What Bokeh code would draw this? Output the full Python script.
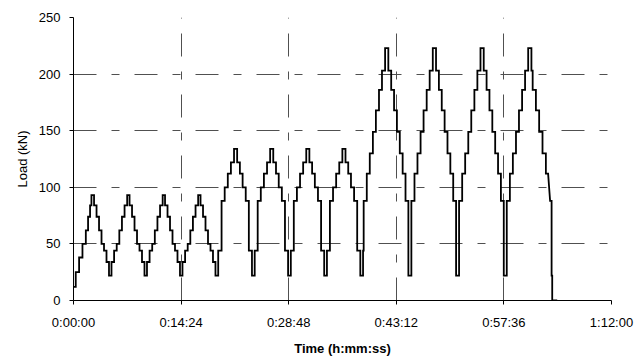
import numpy as np
from bokeh.plotting import figure
from bokeh.models import FixedTicker, Range1d
from bokeh.embed import file_html
from bokeh.resources import INLINE

# ---- axis ticks -----------------------------------------------------------
X_TICKS = [0, 864, 1728, 2592, 3456, 4320]          # seconds
X_TICK_LABELS = ["0:00:00", "0:14:24", "0:28:48", "0:43:12", "0:57:36", "1:12:00"]
Y_TICKS = [0, 50, 100, 150, 200, 250]

# ---- load history: (load kN, hold s) -------------------------------------
# cycle 1: ramp from start to first peak
FIRST_LEVELS = [12, 25, 38, 50, 62, 74, 84, 93]
FIRST_HOLDS = [18, 27, 27, 27, 18, 16, 11, 21]

# small cycles 2-4 (descent from previous peak, trough, ascent, peak)
SMALL_LEVELS = [84, 74, 62, 50, 44, 34, 22, 34, 44, 50, 62, 74, 84, 93]
SMALL_HOLDS = [20, 20, 20, 20, 20, 20, 20, 21, 21, 21, 21, 21, 21, 19]

# descent of cycle 4 into the medium block
SMALL_END_LEVELS = [84, 74, 62, 50, 44, 34, 22, 44]
SMALL_END_HOLDS = [20, 20, 20, 20, 20, 20, 22, 27]

# medium cycles 5-8
MED_UP_LEVELS = [88, 100, 112, 122, 134]
MED_UP_HOLDS = [25, 25, 25, 25, 25]
MED_DOWN_LEVELS = [122, 112, 100, 88, 44, 22, 44]
MED_DOWN_HOLDS = [22, 22, 25, 25, 25, 22, 24]
MED_END_HOLDS = [22, 22, 25, 25, 25, 22, 5]

# large cycles 9-12
LARGE_UP_LEVELS = [88, 112, 130, 149, 168, 186, 203, 223]
LARGE_UP_HOLDS = [25, 24, 25, 24, 25, 24, 25, 26]
LARGE_DOWN_LEVELS = [203, 186, 168, 149, 130, 112, 88, 22]
LARGE_DOWN_HOLDS = [23, 23, 23, 23, 23, 23, 23, 24]

# final unloading
FINAL_LEVELS = [203, 186, 168, 149, 130, 112]
FINAL_HOLDS = [10, 26, 26, 27, 27, 18]
FINAL_RAMP_S = 16                      # sloped 112 -> 88
FINAL_TAIL_LEVELS = [88, 22, 0]
FINAL_TAIL_HOLDS = [12, 5, 40]

# ---- build the step history ----------------------------------------------
xs, ys = [], []
t = 0.0


def add_steps(levels, holds):
    global t
    for lv, h in zip(levels, holds):
        xs.append(t); ys.append(lv)
        t += h
        xs.append(t); ys.append(lv)


add_steps(FIRST_LEVELS, FIRST_HOLDS)
for _ in range(3):
    add_steps(SMALL_LEVELS, SMALL_HOLDS)
add_steps(SMALL_END_LEVELS, SMALL_END_HOLDS)
for i in range(4):
    add_steps(MED_UP_LEVELS, MED_UP_HOLDS)
    add_steps(MED_DOWN_LEVELS, MED_DOWN_HOLDS if i < 3 else MED_END_HOLDS)
for i in range(4):
    add_steps(LARGE_UP_LEVELS, LARGE_UP_HOLDS)
    if i < 3:
        add_steps(LARGE_DOWN_LEVELS, LARGE_DOWN_HOLDS)
add_steps(FINAL_LEVELS, FINAL_HOLDS)
t += FINAL_RAMP_S
add_steps(FINAL_TAIL_LEVELS, FINAL_TAIL_HOLDS)

# ---- figure ----------------------------------------------------------------
FONT = "Liberation Sans"
p = figure(width=638, height=358, output_backend="svg", toolbar_location=None,
           x_range=Range1d(0, 4320), y_range=Range1d(0, 250),
           min_border_left=73, min_border_right=27, min_border_top=17,
           min_border_bottom=58)
p.outline_line_color = None
p.background_fill_color = "white"
p.border_fill_color = "white"

p.line(xs, ys, line_color="black", line_width=1.8, line_join="miter")

for ax in (p.xaxis[0], p.yaxis[0]):
    ax.axis_line_color = "black"
    ax.axis_line_width = 1
    ax.major_tick_line_color = "black"
    ax.major_tick_out = 4
    ax.major_tick_in = 0
    ax.minor_tick_out = 0
    ax.minor_tick_in = 0
    ax.major_label_text_font = FONT
    ax.major_label_text_font_size = "13px"
    ax.major_label_text_color = "black"
    ax.axis_label_text_font = FONT
    ax.axis_label_text_color = "black"

p.xaxis.ticker = FixedTicker(ticks=X_TICKS)
p.xaxis.major_label_overrides = {tk: lb for tk, lb in zip(X_TICKS, X_TICK_LABELS)}
p.yaxis.ticker = FixedTicker(ticks=Y_TICKS)
p.xaxis.major_label_standoff = 10
p.yaxis.major_label_standoff = 9

p.xaxis.axis_label = "Time (h:mm:ss)"
p.xaxis.axis_label_text_font_style = "bold"
p.xaxis.axis_label_text_font_size = "13px"
p.xaxis.axis_label_standoff = 8
p.yaxis.axis_label = "Load (kN)"
p.yaxis.axis_label_text_font_style = "normal"
p.yaxis.axis_label_text_font_size = "13px"
p.yaxis.axis_label_standoff = 6

for g in (p.xgrid[0], p.ygrid[0]):
    g.grid_line_color = "#505050"
    g.grid_line_width = 1
    g.grid_line_dash = "23 15 8 15"
p.xgrid.ticker = FixedTicker(ticks=X_TICKS)
p.ygrid.ticker = FixedTicker(ticks=Y_TICKS)

open("out.html", "w").write(file_html(p, INLINE))
